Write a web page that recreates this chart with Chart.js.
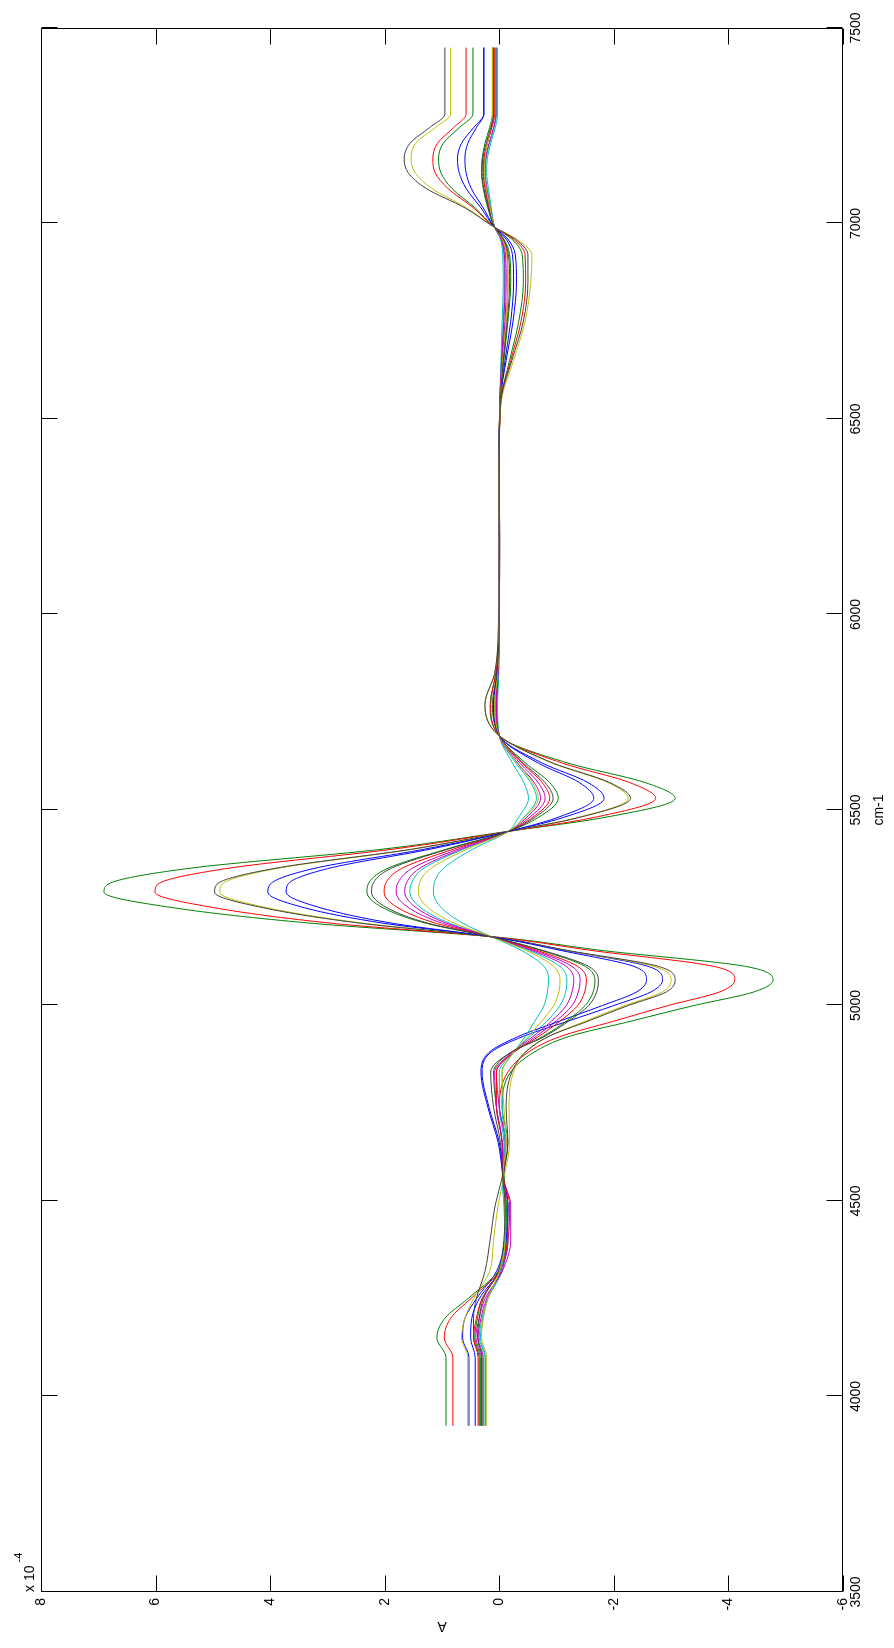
<!DOCTYPE html>
<html>
<head>
<meta charset="utf-8">
<script src="https://cdn.jsdelivr.net/npm/chart.js@4.4.1/dist/chart.umd.min.js"></script>
<style>
  html, body { margin: 0; padding: 0; background: #fff; width: 894px; height: 1648px; overflow: hidden; }
  /* figure is drawn landscape and turned a quarter turn to stand upright */
  #plot { position: absolute; left: 0; top: 0; width: 1648px; height: 894px;
          transform-origin: 0 0; transform: translateY(1648px) rotate(-90deg); }
</style>
</head>
<body>
<div id="plot"><canvas id="spec" width="1648" height="894"></canvas></div>
<script>
"use strict";

// wavenumber grid, cm-1
const wavenumber = [3925, 4100, 4150, 4200, 4250, 4320, 4400, 4490, 4560, 4650, 4740,
  4830, 4880, 4920, 4960, 5000, 5035, 5065, 5100, 5140, 5175, 5210, 5250, 5290, 5310, 5350,
  5400, 5445, 5480, 5530, 5570, 5620, 5690,
  5770, 5850, 6000, 6200, 6400, 6550, 6650, 6750, 6850, 6920, 6960, 6990, 7040, 7090, 7130,
  7165, 7205, 7245, 7280, 7450];

// absorbance, units of 1e-4
const blue1 = [0.53, 0.53, 0.64, 0.6, 0.4, 0.05, -0.1, -0.15, -0.07, 0.0, 0.18,
  0.3, 0.15, -0.4, -1.2, -2.0, -2.65, -2.85, -2.6, -1.2, 0.1, 2.0, 3.4, 4.04, 4.0, 3.25, 1.3, -0.15, -1.1, -1.83, -1.55, -0.75, 0.0,
  0.1, 0.04, 0.0, 0.0, 0.0, -0.02, -0.12, -0.24, -0.3, -0.28, -0.15, 0.08, 0.32, 0.58, 0.7, 0.73, 0.66, 0.45, 0.27, 0.27];
const green1 = [0.93, 0.93, 1.09, 0.95, 0.55, 0.02, -0.15, -0.12, -0.08, -0.15, -0.05,
  -0.2, -0.6, -1.2, -2.3, -3.4, -4.45, -4.78, -4.3, -1.84, 0.05, 3.25, 5.69, 6.9, 6.83, 5.46, 2.03, -0.13, -1.8, -3.07, -2.55, -1.2, 0.0,
  0.16, 0.06, 0.0, 0.0, 0.0, -0.03, -0.18, -0.34, -0.42, -0.4, -0.22, 0.08, 0.42, 0.83, 1.02, 1.06, 0.98, 0.7, 0.46, 0.46];
const red1 = [0.81, 0.81, 0.96, 0.85, 0.5, 0.0, -0.12, -0.1, -0.07, -0.12, 0.0,
  -0.15, -0.5, -1.05, -2.0, -2.95, -3.85, -4.11, -3.75, -1.65, 0.07, 2.9, 4.97, 6.01, 5.96, 4.78, 1.85, -0.15, -1.62, -2.73, -2.28, -1.1, 0.0,
  0.15, 0.06, 0.0, 0.0, 0.0, -0.03, -0.2, -0.38, -0.46, -0.45, -0.25, 0.08, 0.45, 0.9, 1.12, 1.16, 1.08, 0.8, 0.58, 0.58];
const cyan1 = [0.25, 0.25, 0.35, 0.3, 0.2, -0.05, -0.12, -0.12, -0.07, -0.08, 0.0,
  0.0, -0.25, -0.53, -0.83, -1.06, -1.16, -1.18, -1.06, -0.53, 0.12, 0.86, 1.37, 1.56, 1.54, 1.33, 0.62, -0.15, -0.42, -0.65, -0.55, -0.29, 0.0,
  0.04, 0.01, 0.0, 0.0, 0.0, -0.01, -0.04, -0.07, -0.09, -0.08, -0.03, 0.08, 0.15, 0.21, 0.24, 0.23, 0.17, 0.09, 0.05, 0.05];
const magenta1 = [0.31, 0.31, 0.41, 0.35, 0.25, -0.05, -0.2, -0.2, -0.08, -0.1, 0.0,
  0.05, -0.25, -0.63, -0.99, -1.27, -1.38, -1.41, -1.27, -0.63, 0.12, 0.99, 1.58, 1.8, 1.78, 1.53, 0.72, -0.15, -0.52, -0.8, -0.68, -0.36, 0.0,
  0.05, 0.02, 0.0, 0.0, 0.0, -0.01, -0.05, -0.1, -0.12, -0.11, -0.04, 0.08, 0.17, 0.24, 0.27, 0.26, 0.21, 0.14, 0.1, 0.1];
const olive1 = [0.55, 0.55, 0.66, 0.6, 0.45, 0.17, 0.1, 0.02, -0.08, -0.18, -0.17,
  -0.25, -0.45, -0.85, -1.5, -2.2, -2.85, -3.0, -2.7, -1.2, 0.1, 2.35, 4.05, 4.88, 4.84, 3.9, 1.5, -0.15, -1.35, -2.25, -1.9, -0.92, 0.0,
  0.25, 0.08, 0.0, 0.0, 0.01, -0.04, -0.25, -0.45, -0.55, -0.57, -0.3, 0.08, 0.57, 1.18, 1.47, 1.54, 1.46, 1.12, 0.85, 0.85];
const gray1 = [0.35, 0.35, 0.45, 0.45, 0.4, 0.25, 0.16, 0.07, -0.05, -0.15, -0.12,
  -0.22, -0.45, -0.85, -1.55, -2.25, -2.92, -3.07, -2.78, -1.22, 0.1, 2.4, 4.12, 4.97, 4.93, 3.95, 1.52, -0.15, -1.37, -2.29, -1.93, -0.94, 0.0,
  0.25, 0.08, 0.01, -0.01, 0.01, -0.03, -0.22, -0.42, -0.5, -0.5, -0.28, 0.08, 0.6, 1.28, 1.59, 1.66, 1.56, 1.22, 0.95, 0.95];
const blue2 = [0.42, 0.42, 0.5, 0.48, 0.35, 0.0, -0.12, -0.15, -0.07, 0.02, 0.2,
  0.32, 0.18, -0.32, -1.05, -1.8, -2.4, -2.57, -2.35, -1.1, 0.1, 1.85, 3.12, 3.72, 3.69, 3.0, 1.2, -0.15, -1.0, -1.65, -1.4, -0.68, 0.0,
  0.1, 0.04, 0.0, 0.0, 0.0, -0.02, -0.1, -0.2, -0.25, -0.23, -0.12, 0.08, 0.28, 0.49, 0.58, 0.6, 0.55, 0.4, 0.27, 0.27];
const green2 = [0.33, 0.33, 0.43, 0.38, 0.3, 0.0, -0.1, -0.12, -0.08, -0.05, 0.05,
  0.1, -0.2, -0.75, -1.17, -1.5, -1.64, -1.67, -1.5, -0.75, 0.12, 1.27, 2.03, 2.31, 2.29, 1.96, 0.92, -0.15, -0.67, -1.03, -0.88, -0.46, 0.0,
  0.08, 0.03, 0.0, 0.0, 0.0, -0.02, -0.08, -0.15, -0.2, -0.18, -0.08, 0.08, 0.2, 0.28, 0.31, 0.3, 0.25, 0.17, 0.12, 0.12];
const red2 = [0.37, 0.37, 0.45, 0.4, 0.3, 0.0, -0.15, -0.18, -0.07, -0.05, 0.05,
  0.05, -0.25, -0.68, -1.06, -1.37, -1.49, -1.52, -1.37, -0.68, 0.12, 1.1, 1.77, 2.01, 1.99, 1.71, 0.8, -0.15, -0.57, -0.88, -0.75, -0.4, 0.0,
  0.06, 0.02, 0.0, 0.0, 0.0, -0.02, -0.06, -0.12, -0.15, -0.14, -0.06, 0.08, 0.18, 0.25, 0.28, 0.27, 0.21, 0.13, 0.08, 0.08];
const cyan2 = [0.24, 0.24, 0.33, 0.28, 0.2, -0.02, -0.1, -0.08, -0.05, -0.1, -0.05,
  -0.05, -0.25, -0.45, -0.62, -0.78, -0.84, -0.86, -0.78, -0.4, 0.12, 0.63, 1.01, 1.15, 1.14, 0.98, 0.46, -0.15, -0.33, -0.51, -0.43, -0.23, 0.0,
  0.03, 0.01, 0.0, 0.0, 0.0, -0.01, -0.03, -0.05, -0.07, -0.06, -0.02, 0.08, 0.14, 0.19, 0.22, 0.21, 0.15, 0.07, 0.03, 0.03];
const magenta2 = [0.28, 0.28, 0.37, 0.32, 0.22, -0.03, -0.15, -0.15, -0.06, -0.05, 0.05,
  0.08, -0.22, -0.58, -0.91, -1.17, -1.27, -1.3, -1.17, -0.58, 0.12, 0.91, 1.45, 1.65, 1.63, 1.4, 0.66, -0.15, -0.47, -0.72, -0.61, -0.32, 0.0,
  0.05, 0.02, 0.0, 0.0, 0.0, -0.01, -0.04, -0.08, -0.1, -0.09, -0.03, 0.08, 0.16, 0.22, 0.25, 0.24, 0.18, 0.1, 0.06, 0.06];
const olive2 = [0.22, 0.22, 0.31, 0.28, 0.2, 0.0, -0.1, -0.1, -0.06, -0.12, -0.08,
  -0.05, -0.25, -0.5, -0.74, -0.95, -1.04, -1.06, -0.95, -0.48, 0.12, 0.78, 1.24, 1.41, 1.4, 1.2, 0.56, -0.15, -0.44, -0.68, -0.58, -0.31, 0.0,
  0.08, 0.03, 0.0, 0.0, 0.0, -0.02, -0.06, -0.12, -0.15, -0.13, -0.05, 0.08, 0.16, 0.23, 0.26, 0.25, 0.21, 0.15, 0.12, 0.12];
const gray2 = [0.3, 0.3, 0.38, 0.35, 0.28, 0.02, -0.08, -0.1, -0.06, -0.02, 0.1,
  0.15, -0.2, -0.78, -1.21, -1.56, -1.7, -1.73, -1.56, -0.78, 0.12, 1.23, 1.96, 2.23, 2.21, 1.9, 0.89, -0.15, -0.61, -0.94, -0.8, -0.42, 0.0,
  0.12, 0.04, 0.0, 0.0, 0.0, -0.02, -0.07, -0.14, -0.18, -0.16, -0.07, 0.08, 0.19, 0.27, 0.3, 0.29, 0.23, 0.15, 0.1, 0.1];

// default colour order, cycled twice
const series = [
  { y: blue1, color: "#0000ff" },
  { y: green1, color: "#008000" },
  { y: red1, color: "#ff0000" },
  { y: cyan1, color: "#00bfbf" },
  { y: magenta1, color: "#bf00bf" },
  { y: olive1, color: "#bfbf00" },
  { y: gray1, color: "#404040" },
  { y: blue2, color: "#0000ff" },
  { y: green2, color: "#008000" },
  { y: red2, color: "#ff0000" },
  { y: cyan2, color: "#00bfbf" },
  { y: magenta2, color: "#bf00bf" },
  { y: olive2, color: "#bfbf00" },
  { y: gray2, color: "#404040" },
];

const xTicks = { min: 3500, max: 7500, step: 500 };
const yTicks = { min: -6, max: 8, step: 2 };

const FONT = '"Liberation Sans", Arial, Helvetica, sans-serif';
const TICK = 16;

// ── box, inward ticks on all four sides, axis labels ─────────────
const axesBox = {
  id: "axesBox",
  afterDraw(chart) {
    const { ctx, chartArea: a, scales } = chart;
    const L = a.left + 0.5, R = a.right - 0.5, T = a.top + 0.5, B = a.bottom - 0.5;
    ctx.save();
    ctx.strokeStyle = "#000";
    ctx.lineWidth = 1;
    ctx.beginPath();
    ctx.rect(L, T, R - L, B - T);
    scales.x.ticks.forEach((t) => {
      const px = Math.round(scales.x.getPixelForValue(t.value)) + 0.5;
      ctx.moveTo(px, B); ctx.lineTo(px, B - TICK);
      ctx.moveTo(px, T); ctx.lineTo(px, T + TICK);
    });
    scales.y.ticks.forEach((t) => {
      const py = Math.round(scales.y.getPixelForValue(t.value)) + 0.5;
      ctx.moveTo(L, py); ctx.lineTo(L + TICK, py);
      ctx.moveTo(R, py); ctx.lineTo(R - TICK, py);
    });
    ctx.stroke();

    ctx.fillStyle = "#000";
    ctx.font = "14px " + FONT;
    ctx.textAlign = "center";
    ctx.textBaseline = "alphabetic";
    ctx.fillText("cm-1", (a.left + a.right) / 2, a.bottom + 40);

    ctx.save();
    ctx.translate(a.left - 34, (a.top + a.bottom) / 2);
    ctx.rotate(-Math.PI / 2);
    ctx.textBaseline = "middle";
    ctx.fillText("A", 0, 0);
    ctx.restore();

    ctx.textAlign = "left";
    ctx.fillText("x 10", a.left, a.top - 7);
    const w = ctx.measureText("x 10").width;
    ctx.font = "11px " + FONT;
    ctx.fillText("-4", a.left + w + 3, a.top - 19);
    ctx.restore();
  },
};

new Chart(document.getElementById("spec"), {
  type: "line",
  data: {
    datasets: series.map((s, i) => ({
      data: wavenumber.map((x, k) => ({ x, y: s.y[k] })),
      borderColor: s.color,
      borderWidth: 1,
      pointRadius: 0,
      fill: false,
      cubicInterpolationMode: "monotone",
      order: series.length - i,
    })),
  },
  options: {
    responsive: false,
    devicePixelRatio: 1,
    animation: false,
    events: [],
    layout: { padding: { top: 41, right: 28, bottom: 0, left: 0 } },
    plugins: { legend: { display: false }, tooltip: { enabled: false } },
    scales: {
      x: {
        type: "linear",
        min: xTicks.min,
        max: xTicks.max,
        border: { display: false },
        grid: { display: false, drawTicks: false },
        ticks: {
          stepSize: xTicks.step,
          autoSkip: false,
          maxRotation: 0,
          padding: 5,
          color: "#000",
          font: { family: FONT, size: 14 },
          callback: (v) => String(v),
        },
        afterFit: (s) => { s.height = 51; },
      },
      y: {
        type: "linear",
        min: yTicks.min,
        max: yTicks.max,
        border: { display: false },
        grid: { display: false, drawTicks: false },
        ticks: {
          stepSize: yTicks.step,
          autoSkip: false,
          padding: 6,
          color: "#000",
          font: { family: FONT, size: 14 },
          callback: (v) => String(v),
        },
        afterFit: (s) => { s.width = 56; },
      },
    },
  },
  plugins: [axesBox],
});
</script>
</body>
</html>
